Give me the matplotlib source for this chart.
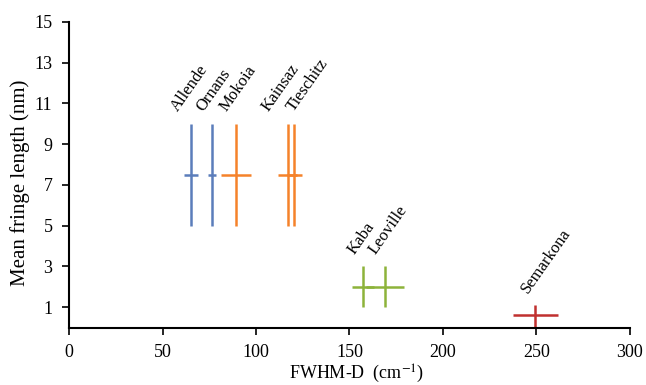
import matplotlib.pyplot as plt

#data
names = ['Allende', 'Ornans', 'Mokoia', 'Kainsaz', 'Tieschitz', 'Kaba', 'Leoville', 'Semarkona']
fwhm = [65.2, 76.5, 89.3, 117.0, 120.5, 157.2, 169.0, 249.3]
fwhm_err = [4.0, 2.0, 8.0, 5.0, 4.0, 6.0, 10.0, 12.0]
fringe = [7.5, 7.5, 7.5, 7.5, 7.5, 2.0, 2.0, 0.6]
fringe_err_low = [2.5, 2.5, 2.5, 2.5, 2.5, 1.0, 1.0, 0.6]
fringe_err_high = [2.5, 2.5, 2.5, 2.5, 2.5, 1.0, 1.0, 0.5]
colours = ['#5B7DBB', '#5B7DBB', '#F5822A', '#F5822A', '#F5822A',
           '#8DB33A', '#8DB33A', '#C0302F']
#horizontal shift of each name label (data units), so they do not overlap
label_shift = [-5.5, -2.7, -3.2, -8.6, 1.6, -2.7, -3.2, -2.0]

plt.rcParams['font.family'] = ['Liberation Serif', 'DejaVu Serif']
plt.rcParams['mathtext.fontset'] = 'stix'

fig = plt.figure(figsize=(6.46, 3.85), dpi=100)
ax = fig.add_axes([0.107, 0.149, 0.868, 0.794])

for i in range(len(names)):
    ax.errorbar(fwhm[i], fringe[i], xerr=fwhm_err[i],
                yerr=[[fringe_err_low[i]], [fringe_err_high[i]]],
                fmt='none', ecolor=colours[i], elinewidth=1.8, capsize=0)
    top = fringe[i] + fringe_err_high[i]
    ax.text(fwhm[i] + label_shift[i], top + 0.45, names[i], rotation=55,
            rotation_mode='anchor', ha='left', va='bottom', fontsize=12)

ax.set_xlim(0, 300)
ax.set_ylim(0, 15)
ax.set_xticks([0, 50, 100, 150, 200, 250, 300])
ax.set_yticks([1, 3, 5, 7, 9, 11, 13, 15])
ax.tick_params(labelsize=13, direction='out', length=5, width=1.2, pad=7)
ax.spines['top'].set_visible(False)
ax.spines['right'].set_visible(False)
ax.spines['left'].set_linewidth(1.5)
ax.spines['bottom'].set_linewidth(1.5)
ax.set_xlabel('FWHM-D  (cm$^{-1}$)', fontsize=13, va='center')
ax.set_ylabel('Mean fringe length (nm)', fontsize=15, va='center')
ax.xaxis.set_label_coords(0.512, -0.152)
ax.yaxis.set_label_coords(-0.087, 0.473)

fig.savefig('out.png', dpi=100)
